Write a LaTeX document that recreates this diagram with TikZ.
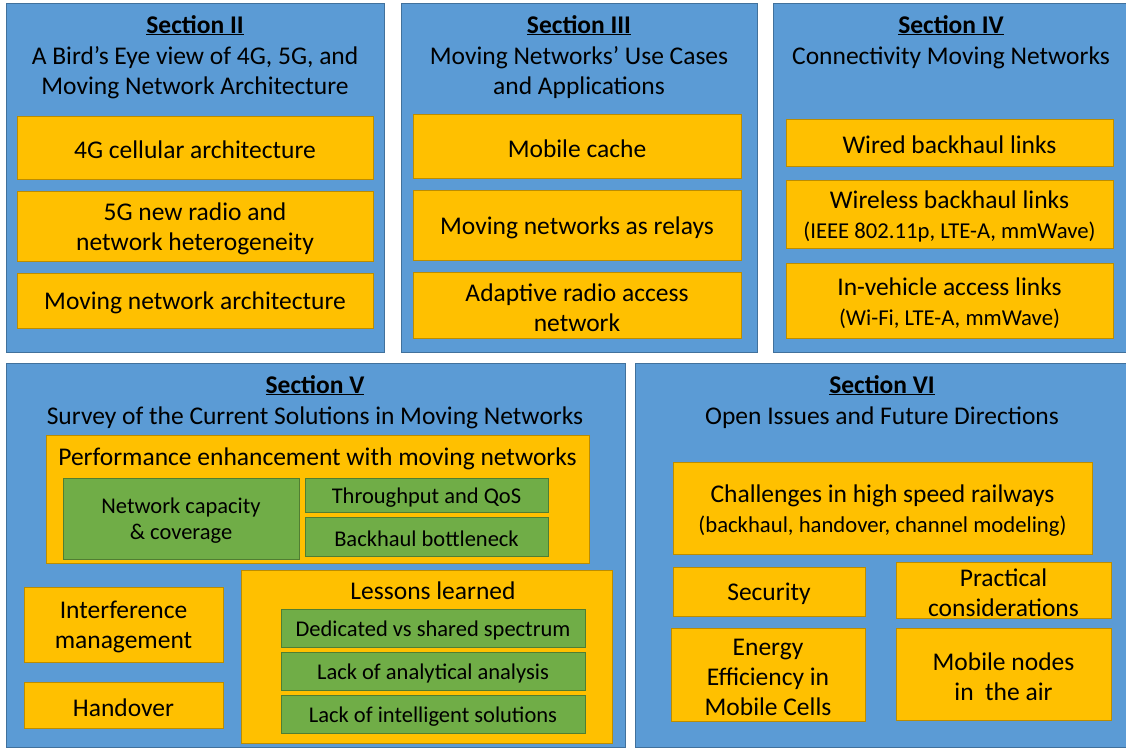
\documentclass[tikz,border=0pt]{standalone}
\usepackage{fontspec}
\setmainfont{Carlito}
\definecolor{blueF}{HTML}{5B9BD5}
\definecolor{blueD}{HTML}{41719C}
\definecolor{orF}{HTML}{FFC000}
\definecolor{orD}{HTML}{BC8C00}
\definecolor{grF}{HTML}{70AD47}
\definecolor{grD}{HTML}{507E32}
\newcommand{\bx}[7]{\node[#6, minimum width={(#4-#2)*1pt}, minimum height={(#5-#3)*1pt}] (#1) at ({(#2+#4)/2},{(#3+#5)/2}) {};
  \node[#6, draw=none, fill=none, yshift=-2.5pt] (#1t) at (#1.center) {#7};}
\newcommand{\sm}{\fontsize{22.7}{27}\selectfont}
\begin{document}
\begin{tikzpicture}[x=1pt,y=-1pt,
  every node/.style={inner sep=0pt, outer sep=0pt, align=center, text=black},
  big/.style={font=\fontsize{25.5}{30}\selectfont},
  mid/.style={font=\fontsize{22.5}{26}\selectfont},
  sec/.style={draw=blueD, fill=blueF, line width=1pt},
  obox/.style={draw=orD, fill=orF, line width=1pt, big},
  gbox/.style={draw=grD, fill=grF, line width=1pt, mid},
  ttl/.style={anchor=base, big}]
\useasboundingbox (0,0) rectangle (1126,748);
% Sections
\bx{s2}{6}{3}{384}{352}{sec}{}
\bx{s3}{401}{3}{757}{352}{sec}{}
\bx{s4}{773}{3}{1130}{352}{sec}{}
\bx{s5}{6}{363}{625}{747}{sec}{}
\bx{s6}{635}{363}{1130}{747}{sec}{}
% Section II
\node[ttl] (t2a) at (195,33) {\underline{\textbf{Section II}}};
\node[ttl] (t2b) at (195,64) {A Bird’s Eye view of 4G, 5G, and};
\node[ttl] (t2c) at (195,94) {Moving Network Architecture};
\bx{b21}{17}{116}{373}{179}{obox}{4G cellular architecture}
\bx{b22}{17}{191}{373}{261}{obox}{5G new radio and\\network heterogeneity}
\bx{b23}{17}{273}{373}{328}{obox}{Moving network architecture}
% Section III
\node[ttl] (t3a) at (579,33) {\underline{\textbf{Section III}}};
\node[ttl] (t3b) at (579,64) {Moving Networks’ Use Cases};
\node[ttl] (t3c) at (579,94) {and Applications};
\bx{b31}{413}{114}{741}{178}{obox}{Mobile cache}
\bx{b32}{413}{190}{741}{260}{obox}{Moving networks as relays}
\bx{b33}{413}{272}{741}{338}{obox}{Adaptive radio access\\network}
% Section IV
\node[ttl] (t4a) at (951,33) {\underline{\textbf{Section IV}}};
\node[ttl] (t4b) at (951,64) {Connectivity Moving Networks};
\bx{b41}{786}{119}{1113}{166}{obox}{Wired backhaul links}
\bx{b42}{786}{180}{1113}{248}{obox}{Wireless backhaul links\\{\sm (IEEE 802.11p, LTE-A, mmWave)}}
\bx{b43}{786}{263}{1113}{338}{obox}{In-vehicle access links\\{\sm (Wi-Fi, LTE-A, mmWave)}}
% Section V
\node[ttl] (t5a) at (315,393) {\underline{\textbf{Section V}}};
\node[ttl] (t5b) at (315,424) {Survey of the Current Solutions in Moving Networks};
\bx{p5}{46}{435}{589}{563}{draw=orD, fill=orF, line width=1pt}{}
\node[ttl] (p5t) at (317.5,465) {Performance enhancement with moving networks};
\bx{g51}{63}{478}{299}{559}{gbox}{Network capacity\\\& coverage}
\bx{g52}{305}{478}{548}{512}{gbox}{Throughput and QoS}
\bx{g53}{305}{517}{548}{556}{gbox}{Backhaul bottleneck}
\bx{b51}{24}{587}{223}{662}{obox}{Interference\\management}
\bx{b52}{24}{682}{223}{728}{obox}{Handover}
\bx{l5}{241}{570}{612}{743}{draw=orD, fill=orF, line width=1pt}{}
\node[ttl] (l5t) at (433,599) {Lessons learned};
\bx{g54}{281}{609}{585}{647}{gbox}{Dedicated vs shared spectrum}
\bx{g55}{281}{652}{585}{690}{gbox}{Lack of analytical analysis}
\bx{g56}{281}{695}{585}{733}{gbox}{Lack of intelligent solutions}
% Section VI
\node[ttl] (t6a) at (882,393) {\underline{\textbf{Section VI}}};
\node[ttl] (t6b) at (882,424) {Open Issues and Future Directions};
\bx{b61}{673}{462}{1092}{554}{obox}{Challenges in high speed railways\\{\sm (backhaul, handover, channel modeling)}}
\bx{b62}{673}{567}{865}{616}{obox}{Security}
\bx{b63}{896}{562}{1111}{618}{obox}{Practical\\considerations}
\bx{b64}{671}{628}{865}{721}{obox}{Energy\\Efficiency in\\Mobile Cells}
\bx{b65}{896}{628}{1111}{720}{obox}{Mobile nodes\\in\ \ the air}
\end{tikzpicture}
\end{document}
